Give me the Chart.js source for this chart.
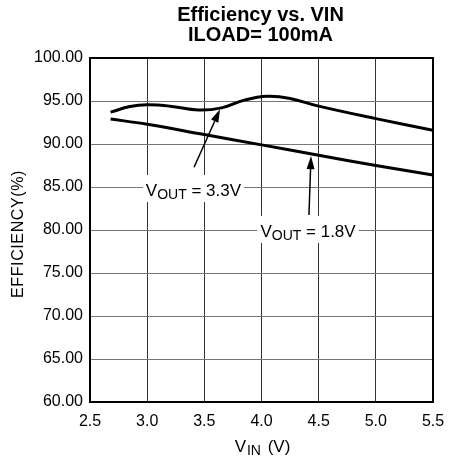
<!DOCTYPE html>
<html><head><meta charset="utf-8">
<script src="https://cdn.jsdelivr.net/npm/chart.js@4/dist/chart.umd.min.js"></script>
<style>html,body{margin:0;padding:0;background:#fff}#wrap{width:455px;height:462px}</style>
</head><body><div id="wrap"><canvas id="c" width="455" height="462"></canvas></div>
<script>
const vin33 = [2.68, 2.85, 3.0, 3.2, 3.45, 3.65, 3.85, 4.05, 4.25, 4.5, 5.0, 5.5];
const eff33 = [93.7, 94.35, 94.55, 94.4, 93.95, 94.2, 95.1, 95.55, 95.3, 94.4, 92.95, 91.6];
const vin18 = [2.68, 3.0, 3.5, 4.0, 4.5, 5.0, 5.5];
const eff18 = [92.9, 92.3, 91.1, 89.9, 88.7, 87.5, 86.4];
const yTicks = [60, 65, 70, 75, 80, 85, 90, 95, 100];
const xTicks = [2.5, 3.0, 3.5, 4.0, 4.5, 5.0, 5.5];
const titleLines = ["Efficiency vs. VIN", "ILOAD= 100mA"];
const yTitle = "EFFICIENCY(%)";
const labels = [
  {main: "V", sub: "OUT", rest: " = 3.3V", at: [3.405, 83.95], tail: [3.41, 87.29], head: [3.637, 94.03]},
  {main: "V", sub: "OUT", rest: " = 1.8V", at: [4.407, 79.19], tail: [4.415, 81.74], head: [4.433, 88.6]}
];
const FONT = "'Liberation Sans', Arial, sans-serif";

const deco = {
  id: 'deco',
  afterDatasetsDraw(chart) {
    const ctx = chart.ctx, xs = chart.scales.x, ys = chart.scales.y, a = chart.chartArea;
    ctx.save();
    // border
    ctx.strokeStyle = '#000'; ctx.lineWidth = 2;
    ctx.strokeRect(a.left, a.top, a.right - a.left, a.bottom - a.top);
    // annotations
    labels.forEach(l => {
      const cx = xs.getPixelForValue(l.at[0]), by0 = ys.getPixelForValue(l.at[1]);
      ctx.font = "17px " + FONT;
      const w1 = ctx.measureText(l.main).width;
      ctx.font = "14px " + FONT;
      const w2 = ctx.measureText(l.sub).width;
      ctx.font = "17px " + FONT;
      const w3 = ctx.measureText(l.rest).width;
      const tw = w1 + w2 + w3;
      const x0 = cx - tw / 2;
      ctx.fillStyle = '#fff';
      ctx.fillRect(x0 - 3, by0 - 21, tw + 6, 27);
      ctx.fillStyle = '#000';
      ctx.textBaseline = 'alphabetic'; ctx.textAlign = 'left';
      ctx.fillText(l.main, x0, by0);
      ctx.font = "14px " + FONT;
      ctx.fillText(l.sub, x0 + w1, by0 + 3);
      ctx.font = "17px " + FONT;
      ctx.fillText(l.rest, x0 + w1 + w2, by0);
      // arrow
      const tx = xs.getPixelForValue(l.tail[0]), ty = ys.getPixelForValue(l.tail[1]);
      const hx = xs.getPixelForValue(l.head[0]), hy = ys.getPixelForValue(l.head[1]);
      const ang = Math.atan2(hy - ty, hx - tx);
      const L = 13, W = 4;
      const bx = hx - L * Math.cos(ang), by = hy - L * Math.sin(ang);
      ctx.strokeStyle = '#000'; ctx.lineWidth = 1.5;
      ctx.beginPath(); ctx.moveTo(tx, ty); ctx.lineTo(bx, by); ctx.stroke();
      ctx.beginPath();
      ctx.moveTo(hx, hy);
      ctx.lineTo(bx + W * Math.sin(ang), by - W * Math.cos(ang));
      ctx.lineTo(bx - W * Math.sin(ang), by + W * Math.cos(ang));
      ctx.closePath(); ctx.fill();
    });
    // titles
    ctx.fillStyle = '#000'; ctx.textAlign = 'center'; ctx.textBaseline = 'alphabetic';
    const mid = (a.left + a.right) / 2;
    ctx.font = "bold 20px " + FONT;
    ctx.fillText(titleLines[0], mid - 1, 21);
    ctx.fillText(titleLines[1], mid - 1, 41);
    // x title V_IN (V)
    ctx.font = "17px " + FONT;
    const p1 = "V", p3 = " (V)";
    const w1 = ctx.measureText(p1).width, w3 = ctx.measureText(p3).width;
    ctx.font = "14px " + FONT;
    const w2 = ctx.measureText("IN").width;
    const x0 = mid + 1 - (w1 + w2 + w3 + 3) / 2;
    ctx.textAlign = 'left';
    ctx.font = "17px " + FONT; ctx.fillText(p1, x0, 452);
    ctx.font = "14px " + FONT; ctx.fillText("IN", x0 + w1 + 1, 455);
    ctx.font = "17px " + FONT; ctx.fillText(p3, x0 + w1 + w2 + 3, 452);
    // y title
    ctx.translate(23, (a.top + a.bottom) / 2 + 4);
    ctx.rotate(-Math.PI / 2);
    ctx.textAlign = 'center';
    ctx.font = "16px " + FONT;
    try { ctx.letterSpacing = '0.6px'; } catch (e) {}
    ctx.fillText(yTitle, 0, 0);
    ctx.restore();
  }
};

new Chart(document.getElementById('c'), {
  type: 'line',
  data: {
    datasets: [
      {data: vin33.map((v, i) => ({x: v, y: eff33[i]})), borderColor: '#000', borderWidth: 3, pointRadius: 0, tension: 0.4, fill: false},
      {data: vin18.map((v, i) => ({x: v, y: eff18[i]})), borderColor: '#000', borderWidth: 3, pointRadius: 0, tension: 0.4, fill: false}
    ]
  },
  options: {
    responsive: false, animation: false, devicePixelRatio: 1,
    layout: {padding: {left: 0, right: 22, top: 58, bottom: 0}},
    plugins: {legend: {display: false}, title: {display: false}, tooltip: {enabled: false}},
    scales: {
      x: {
        type: 'linear', min: 2.5, max: 5.5,
        afterBuildTicks: s => { s.ticks = xTicks.map(v => ({value: v})); },
        afterFit: s => { s.height = 60; },
        border: {display: false},
        grid: {color: '#333', lineWidth: 1, drawTicks: false},
        ticks: {color: '#000', font: {family: FONT, size: 16}, padding: 10, maxRotation: 0, callback: v => Number(v).toFixed(1)}
      },
      y: {
        type: 'linear', min: 60, max: 100,
        afterBuildTicks: s => { s.ticks = yTicks.map(v => ({value: v})); },
        afterFit: s => { s.width = 90; },
        border: {display: false},
        grid: {color: '#777', lineWidth: 1, drawTicks: false},
        ticks: {color: '#000', font: {family: FONT, size: 16}, padding: 7, callback: v => Number(v).toFixed(2)}
      }
    }
  },
  plugins: [deco]
});
</script></body></html>
